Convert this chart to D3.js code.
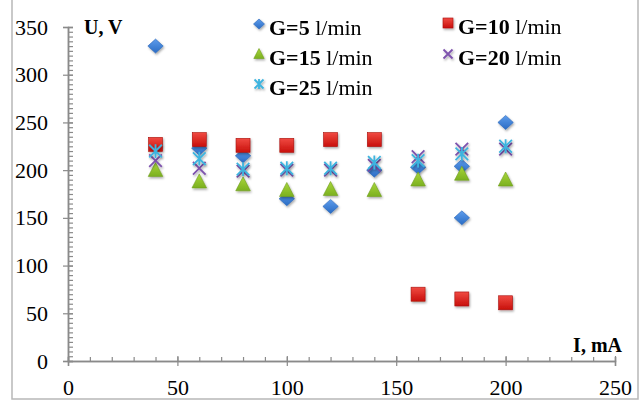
<!DOCTYPE html>
<html>
<head>
<meta charset="utf-8">
<script src="https://cdn.jsdelivr.net/npm/d3@7"></script>
<style>
  body { margin: 0; background: #fff; }
  text { font-family: "Liberation Serif", "Times New Roman", serif; }
</style>
</head>
<body>
<div id="chart"></div>
<script>
// Currents (mA) measured for each flow rate
const currents = [40, 60, 80, 100, 120, 140, 160, 180, 200];
// G=5 has two readings at 180 mA
const g5Currents = [40, 60, 80, 100, 120, 140, 160, 180, 180, 200];
const g5 = [330, 223, 215, 170, 162, 200, 203, 204, 150, 250];
const g10 = [227, 232, 226, 226, 232, 232, 70, 65, 61];
const g15 = [200, 188, 185, 179, 180, 179, 190, 196, 190];
const g20 = [210, 202, 199, 200, 200, 205, 214, 222, 222];
const g25 = [220, 212, 201, 202, 202, 208, 210, 217, 225];
const seriesNames = ['G=5', 'G=10', 'G=15', 'G=20', 'G=25'];
const xTicks = [0, 50, 100, 150, 200, 250];
const yTicks = [0, 50, 100, 150, 200, 250, 300, 350];

const W = 644, H = 402;
const svg = d3.select('#chart').append('svg')
    .attr('width', W)
    .attr('height', H);

const x = d3.scaleLinear().domain([0, 250]).range([68, 615]);
const y = d3.scaleLinear().domain([0, 350]).range([361, 27]);

const defs = svg.append('defs');
const shadow = defs.append('filter').attr('id', 'shadow')
    .attr('x', '-50%').attr('y', '-50%').attr('width', '200%').attr('height', '200%');
shadow.append('feDropShadow')
    .attr('dx', 1).attr('dy', 1.5).attr('stdDeviation', 1)
    .attr('flood-color', '#000').attr('flood-opacity', 0.35);

const grad = (id, top, bottom) => {
    const lg = defs.append('linearGradient').attr('id', id)
        .attr('x1', 0).attr('y1', 0).attr('x2', 0).attr('y2', 1);
    lg.append('stop').attr('offset', '0%').attr('stop-color', top);
    lg.append('stop').attr('offset', '100%').attr('stop-color', bottom);
};
grad('gBlue', '#5d9cec', '#2a6cc4');
grad('gRed', '#f04a42', '#c8100c');
grad('gGreen', '#a8d63a', '#7bb020');

// frame
svg.append('path')
    .attr('d', `M12,0 V399 H638 V0`)
    .attr('fill', 'none')
    .attr('stroke', '#b8b8b8')
    .attr('stroke-width', 1.5);

// axes
const axisColor = '#8a8a8a';
const xMinor = svg.append('g')
    .attr('transform', `translate(0,${y(0)})`)
    .call(d3.axisBottom(x).tickValues(d3.range(0, 251, 10)).tickSize(-4).tickFormat(''));
const xMajor = svg.append('g')
    .attr('transform', `translate(0,${y(0)})`)
    .call(d3.axisBottom(x).tickValues(xTicks).tickSize(5).tickPadding(13));
xMajor.selectAll('.tick line').attr('y1', -5);

const yMinor = svg.append('g')
    .attr('transform', `translate(${x(0)},0)`)
    .call(d3.axisLeft(y).tickValues(d3.range(0, 351, 5)).tickSize(-5).tickFormat(''));
const yMajor = svg.append('g')
    .attr('transform', `translate(${x(0)},0)`)
    .call(d3.axisLeft(y).tickValues(yTicks).tickSize(5).tickPadding(15));
yMajor.selectAll('.tick line').attr('x1', 5);

[xMinor, xMajor, yMinor, yMajor].forEach(a => {
    a.select('.domain').attr('stroke', axisColor).attr('stroke-width', 1.5);
    a.selectAll('.tick line').attr('stroke', axisColor).attr('stroke-width', 1.2);
    a.selectAll('.tick text')
        .attr('fill', '#000')
        .style('font-family', '"Liberation Serif", serif')
        .style('font-size', '22px');
});

// axis titles
svg.append('text').attr('x', 84).attr('y', 34)
    .style('font-size', '20px').style('font-weight', 'bold').text('U, V');
svg.append('text').attr('x', 622).attr('y', 352).attr('text-anchor', 'end')
    .style('font-size', '20px').style('font-weight', 'bold').text('I, mA');

// marker drawers
const drawMarker = (sel, type, s) => {
    if (type === 0) {
        sel.append('path').attr('d', `M0,${-s * 0.5} L${s * 0.55},0 L0,${s * 0.5} L${-s * 0.55},0 Z`)
            .attr('fill', 'url(#gBlue)').attr('stroke', '#2a66b8').attr('stroke-width', 0.6);
    } else if (type === 1) {
        sel.append('rect').attr('x', -s / 2).attr('y', -s / 2).attr('width', s).attr('height', s)
            .attr('fill', 'url(#gRed)').attr('stroke', '#a80e0a').attr('stroke-width', 0.6);
    } else if (type === 2) {
        sel.append('path').attr('d', `M0,${-s * 0.55} L${s * 0.52},${s * 0.45} L${-s * 0.52},${s * 0.45} Z`)
            .attr('fill', 'url(#gGreen)').attr('stroke', '#6e9e1c').attr('stroke-width', 0.6);
    } else if (type === 3) {
        const h = s * 0.45;
        sel.append('path').attr('d', `M${-h},${-h} L${h},${h} M${-h},${h} L${h},${-h}`)
            .attr('stroke', '#7d52ad').attr('stroke-width', 1.8).attr('fill', 'none');
    } else {
        const h = s * 0.45;
        sel.append('path').attr('d', `M${-h},${-h} L${h},${h} M${-h},${h} L${h},${-h} M0,${-h * 1.1} V${h * 1.1}`)
            .attr('stroke', '#3db4df').attr('stroke-width', 1.8).attr('fill', 'none');
    }
};

const series = [
    { xs: g5Currents, ys: g5 },
    { xs: currents, ys: g10 },
    { xs: currents, ys: g15 },
    { xs: currents, ys: g20 },
    { xs: currents, ys: g25 }
];

series.forEach((s, i) => {
    const pts = s.xs.map((c, j) => [c, s.ys[j]]);
    svg.append('g').attr('filter', 'url(#shadow)')
        .selectAll('g')
        .data(pts)
        .join('g')
        .attr('transform', d => `translate(${x(d[0])},${y(d[1])})`)
        .each(function () { drawMarker(d3.select(this), i, 14); });
});

// legend
const legendPos = [[259, 24], [448, 23], [259, 54], [448, 54], [259, 84]];
seriesNames.forEach((name, i) => {
    const [lx, ly] = legendPos[i];
    const g = svg.append('g').attr('transform', `translate(${lx},${ly})`).attr('filter', 'url(#shadow)');
    drawMarker(g, i, 10);
    const t = svg.append('text').attr('x', lx + 10).attr('y', ly + 11)
        .style('font-size', '22px');
    t.append('tspan').style('font-weight', 'bold').text(name);
    t.append('tspan').text(' l/min');
});
</script>
</body>
</html>
